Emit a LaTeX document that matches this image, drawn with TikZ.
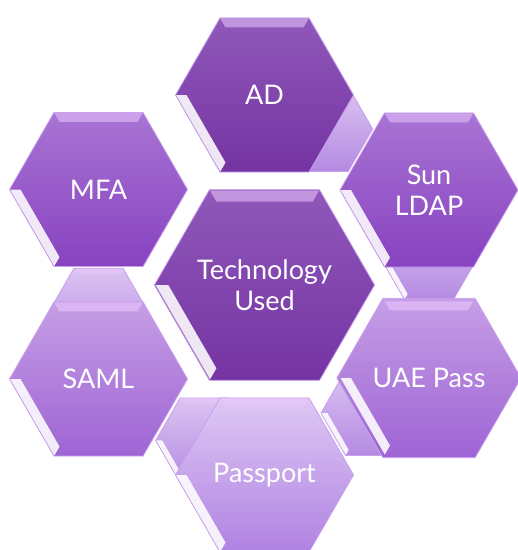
\documentclass[tikz,border=0pt]{standalone}
\usepackage{fontspec}
\setmainfont{Lato}
\usetikzlibrary{shapes.geometric,calc}
\definecolor{darkT}{RGB}{144,88,186}
\definecolor{darkB}{RGB}{116,52,162}
\definecolor{midT}{RGB}{168,116,212}
\definecolor{midB}{RGB}{136,66,192}
\definecolor{liteT}{RGB}{198,158,230}
\definecolor{liteB}{RGB}{158,100,212}
\definecolor{paleT}{RGB}{222,200,244}
\definecolor{paleB}{RGB}{176,130,226}
\definecolor{connT}{RGB}{220,196,242}
\definecolor{connB}{RGB}{180,138,226}
\definecolor{hexline}{RGB}{200,160,236}
\definecolor{bevpink}{RGB}{236,200,255}
\tikzset{
  hex/.style={regular polygon, regular polygon sides=6, inner sep=0pt, outer sep=0pt,
    text=white, align=center, font=\fontsize{27}{31}\selectfont, draw=hexline, line width=0.8pt},
  outerhex/.style={hex, minimum size=178pt},
  innerhex/.style={hex, minimum size=219pt},
  connhex/.style={hex, minimum size=98pt},
  shdark/.style={top color=darkT, bottom color=darkB},
  shmid/.style={top color=midT, bottom color=midB},
  shlite/.style={top color=liteT, bottom color=liteB},
  shpale/.style={top color=paleT, bottom color=paleB},
  shconn/.style={top color=connT, bottom color=connB},
  bevtop/.style={fill=bevpink, fill opacity=0.55},
  bevleft/.style={fill=white, fill opacity=0.88},
}
\newcommand\hexbevel[3]{%
  \pgfmathsetmacro\bvR{#2-0.6}%
  \pgfmathsetmacro\bvr{#2-0.6-#3/0.866}%
  \fill[bevtop] ($(#1.center)+(120:\bvR pt)$) -- ($(#1.center)+(60:\bvR pt)$) -- ($(#1.center)+(60:\bvr pt)$) -- ($(#1.center)+(120:\bvr pt)$) -- cycle;
  \fill[bevleft] ($(#1.center)+(180:\bvR pt)$) -- ($(#1.center)+(240:\bvR pt)$) -- ($(#1.center)+(240:\bvr pt)$) -- ($(#1.center)+(180:\bvr pt)$) -- cycle;
}
\begin{document}
\begin{tikzpicture}[x=1pt,y=1pt]
\useasboundingbox (0,0) rectangle (518,-550);
% connecting hexagons (behind)
\node[connhex, shconn] (k1) at (323.7,-129) {};
\node[connhex, shconn] (k2) at (429,-257) {};
\node[connhex, shconn] (k3) at (370,-413) {};
\node[connhex, shconn] (k4) at (204.7,-440.4) {};
\node[connhex, shconn] (k5) at (98.5,-310.6) {};
\hexbevel{k1}{49}{5}
\hexbevel{k2}{49}{5}
\hexbevel{k3}{49}{5}
\hexbevel{k4}{49}{5}
\hexbevel{k5}{49}{5}
% outer hexagons
\node[outerhex, shdark] (ad) at (264.5,-95) {AD};
\node[outerhex, shmid] (ldap) at (429,-190) {Sun\\LDAP};
\node[outerhex, shlite] (uae) at (429,-378) {UAE Pass};
\node[outerhex, shpale] (pass) at (264.5,-475) {Passport};
\node[outerhex, shlite] (saml) at (98.5,-379) {SAML};
\node[outerhex, shmid] (mfa) at (98.5,-189.5) {MFA};
% centre
\node[innerhex, shdark] (tech) at (264.5,-285) {Technology\\Used};
\hexbevel{ad}{89}{9}
\hexbevel{ldap}{89}{9}
\hexbevel{uae}{89}{9}
\hexbevel{pass}{89}{9}
\hexbevel{saml}{89}{9}
\hexbevel{mfa}{89}{9}
\hexbevel{tech}{109.5}{11}
\end{tikzpicture}
\end{document}
